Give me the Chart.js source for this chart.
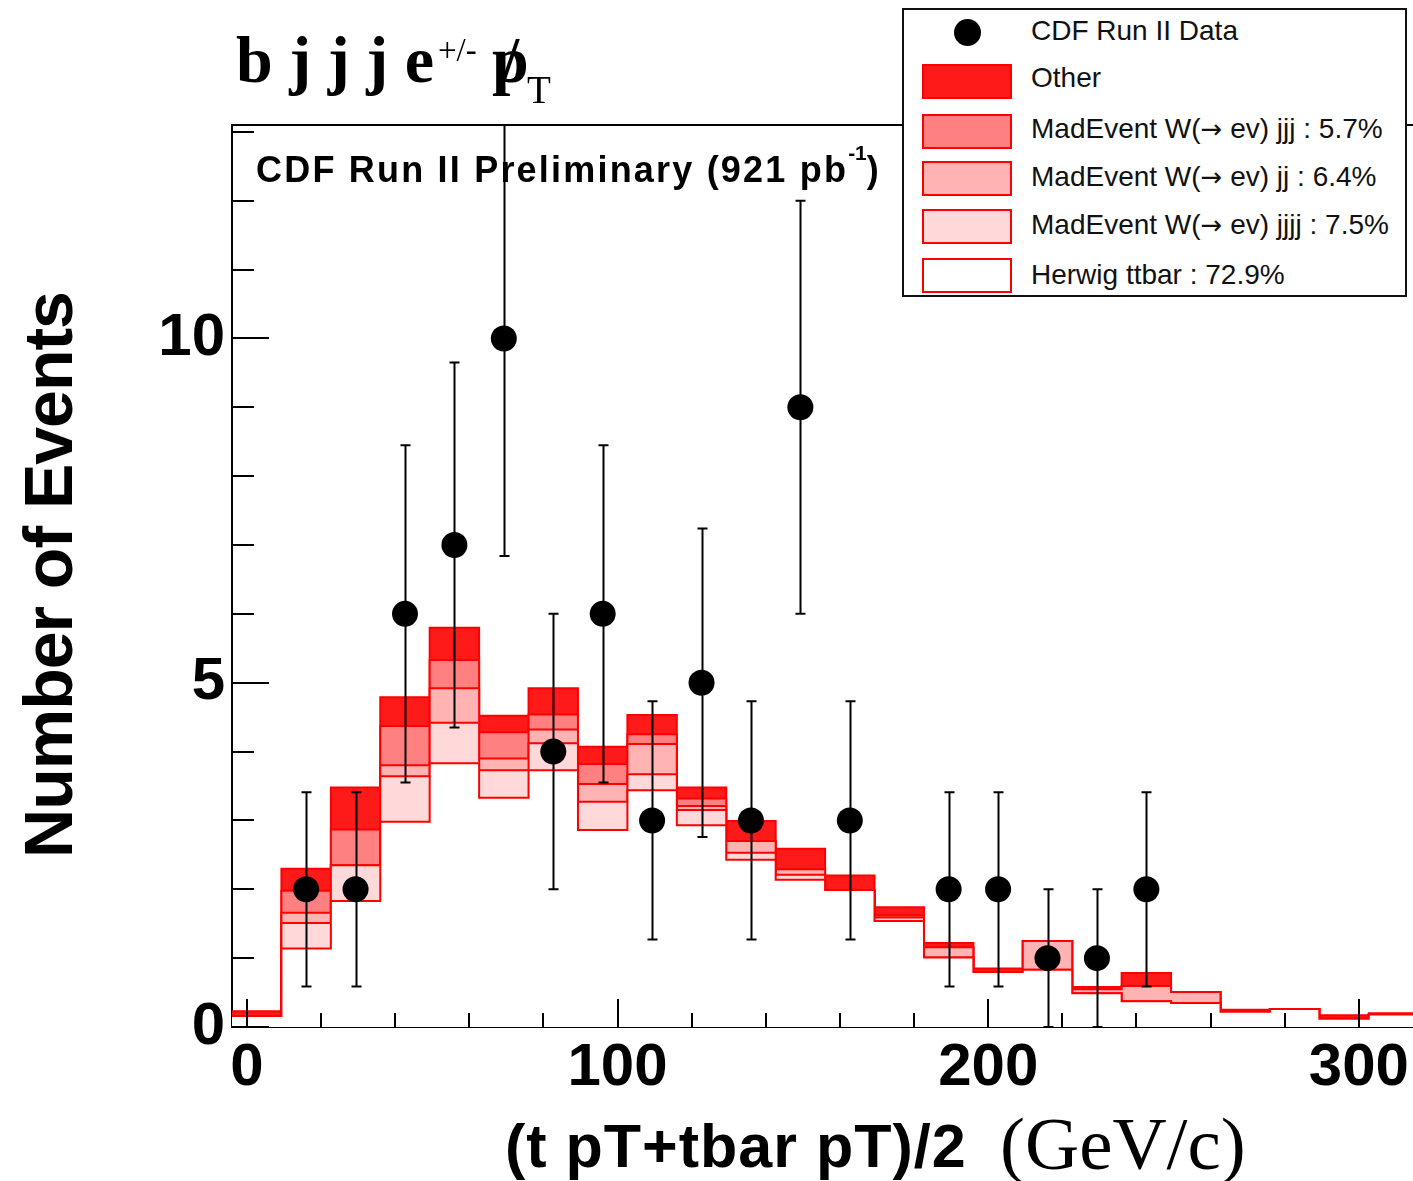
<!DOCTYPE html>
<html><head><meta charset="utf-8">
<script src="https://cdn.jsdelivr.net/npm/chart.js@4.4.1/dist/chart.umd.min.js"></script>
<style>
html,body{margin:0;padding:0;background:#fff;}
#wrap{position:relative;width:1413px;height:1181px;overflow:hidden;background:#fff;}
#c{position:absolute;left:0;top:0;}
.t{position:absolute;white-space:pre;line-height:1;color:#000;}
.sans{font-family:"Liberation Sans",Arial,Helvetica,sans-serif;}
.serif{font-family:"Liberation Serif","Times New Roman",Times,serif;}
#legend{position:absolute;left:902px;top:8px;width:505px;height:289px;box-sizing:border-box;border:2px solid #111;background:#fff;}
.sw{position:absolute;left:18px;width:90px;height:35px;box-sizing:border-box;border:2px solid #ff0000;}
.lt{position:absolute;left:127px;font-size:28px;line-height:1;white-space:pre;color:#111;font-family:"Liberation Sans",Arial,Helvetica,sans-serif;}
.ar{font-family:"DejaVu Sans",sans-serif;font-size:26px;}
</style></head><body>
<div id="wrap">
<canvas id="c" width="1413" height="1181"></canvas>

<!-- title -->
<div class="t serif" style="left:236px;top:26.7px;font-size:66px;font-weight:bold;">b j j j e</div>
<div class="t serif" style="left:438px;top:34px;font-size:33px;">+/-</div>
<div class="t serif" style="left:492px;top:26.7px;font-size:66px;font-weight:bold;">p</div>
<div class="t serif" style="left:497px;top:24.6px;font-size:82px;">/</div>
<div class="t serif" style="left:527px;top:70.3px;font-size:39px;">T</div>

<div class="t sans" style="left:256px;top:151.5px;font-size:36px;font-weight:bold;letter-spacing:2.2px;">CDF Run II Preliminary (921 pb<span style="position:relative;top:-22px;font-size:21px;letter-spacing:0;">-1</span>)</div>

<div class="t sans" style="left:-302px;top:541px;width:700px;height:68px;text-align:center;font-size:68px;font-weight:bold;letter-spacing:-1px;transform:rotate(-90deg);transform-origin:50% 50%;">Number of Events</div>

<div class="t sans" style="left:505px;top:1116.4px;font-size:61px;font-weight:bold;letter-spacing:1px;">(t pT+tbar pT)/2</div>
<div class="t serif" style="left:1000px;top:1106.2px;font-size:75px;">(GeV/c)</div>

<div id="legend"></div>
</div>

<script>
// ---- data ----
const binEdges = [-4, 9.33, 22.67, 36, 49.33, 62.67, 76, 89.33, 102.67, 116, 129.33, 142.67,
                  156, 169.33, 182.67, 196, 209.33, 222.67, 236, 249.33, 262.67, 276, 289.33, 302.67, 316];
const herwigTtbar = [0.16, 1.14, 1.83, 2.98, 3.83, 3.33, 3.73, 2.86, 3.44, 2.93, 2.43, 2.14,
                     1.99, 1.54, 1.01, 0.80, 0.83, 0.49, 0.375, 0.35, 0.22, 0.26, 0.12, 0.18];
const wjjjj = [0, 0.37, 0.52, 0.66, 0.59, 0.40, 0.39, 0.41, 0.23, 0.22, 0.10, 0.07,
               0, 0.05, 0, 0, 0, 0, 0, 0, 0, 0, 0, 0];
const wjj = [0, 0.15, 0, 0.16, 0.50, 0.17, 0.20, 0.26, 0.44, 0.06, 0.17, 0.08,
             0, 0.03, 0.15, 0, 0.42, 0.06, 0.22, 0.16, 0, 0, 0, 0];
const wjjj = [0, 0.32, 0.52, 0.57, 0.41, 0.38, 0.22, 0.29, 0.14, 0.11, 0, 0,
              0, 0, 0, 0, 0, 0, 0, 0, 0, 0, 0, 0];
const other = [0.07, 0.32, 0.61, 0.42, 0.47, 0.24, 0.38, 0.25, 0.28, 0.16, 0.29, 0.30,
               0.21, 0.12, 0.06, 0.05, 0, 0.03, 0.19, 0, 0.03, 0, 0.05, 0.02];

const dataCenters = [16, 29.33, 42.67, 56, 69.33, 82.67, 96, 109.33, 122.67, 136, 149.33, 162.67,
                     189.33, 202.67, 216, 229.33, 242.67];
const dataValues = [2, 2, 6, 7, 10, 4, 6, 3, 5, 3, 9, 3, 2, 2, 1, 1, 2];
const dataErrLow = [1.41, 1.41, 2.45, 2.65, 3.16, 2.0, 2.45, 1.73, 2.24, 1.73, 3.0, 1.73, 1.41, 1.41, 1.0, 1.0, 1.41];
const dataErrHigh = [1.41, 1.41, 2.45, 2.65, 3.16, 2.0, 2.45, 1.73, 2.24, 1.73, 3.0, 1.73, 1.41, 1.41, 1.0, 1.0, 1.41];

const xTickLabels = [0, 100, 200, 300];
const yTickLabels = [0, 5, 10];

const legendItems = [
  {label: 'Other', color: '#ff1a1a'},
  {label: 'MadEvent W(<span class="ar">\u2192</span> ev) jjj : 5.7%', color: '#ff8080'},
  {label: 'MadEvent W(<span class="ar">\u2192</span> ev) jj : 6.4%', color: '#ffb3b3'},
  {label: 'MadEvent W(<span class="ar">\u2192</span> ev) jjjj : 7.5%', color: '#ffd9d9'},
  {label: 'Herwig ttbar : 72.9%', color: '#ffffff'}
];

// ---- helpers ----
function histPoints(vals) {
  return binEdges.map((x, i) => ({x: x, y: vals[Math.min(i, vals.length - 1)]}));
}
function layer(label, vals, color, fill) {
  return {
    type: 'line', label: label, data: histPoints(vals), stepped: true, order: 1,
    borderColor: '#ff0000', borderWidth: 2, backgroundColor: color, fill: fill,
    pointRadius: 0, pointHoverRadius: 0, tension: 0
  };
}

const errorBars = {
  id: 'errorBars',
  afterDatasetsDraw(chart) {
    const {ctx, chartArea: a, scales: {x, y}} = chart;
    ctx.save();
    ctx.beginPath();
    ctx.rect(a.left, a.top, a.right - a.left, a.bottom - a.top);
    ctx.clip();
    ctx.strokeStyle = '#000';
    ctx.lineWidth = 2;
    dataCenters.forEach((c, i) => {
      const px = Math.round(x.getPixelForValue(c)) + 0.5;
      const y1 = y.getPixelForValue(dataValues[i] + dataErrHigh[i]);
      const y0 = y.getPixelForValue(Math.max(0, dataValues[i] - dataErrLow[i]));
      ctx.beginPath();
      ctx.moveTo(px, y0); ctx.lineTo(px, y1);
      ctx.moveTo(px - 5, y1); ctx.lineTo(px + 5, y1);
      ctx.moveTo(px - 5, y0); ctx.lineTo(px + 5, y0);
      ctx.stroke();
    });
    ctx.restore();
  }
};

const frameTicks = {
  id: 'frameTicks',
  afterDraw(chart) {
    const {ctx, chartArea: a, scales: {x, y}} = chart;
    ctx.save();
    ctx.strokeStyle = '#000';
    ctx.lineWidth = 2;
    ctx.beginPath();
    ctx.moveTo(a.left, a.top); ctx.lineTo(a.right, a.top);
    for (let v = 0; v <= 13; v++) {
      const py = Math.round(y.getPixelForValue(v));
      const len = (v % 5 === 0) ? 37 : 22;
      ctx.moveTo(a.left, py); ctx.lineTo(a.left + len, py);
    }
    for (let v = 0; v <= 300; v += 20) {
      const px = Math.round(x.getPixelForValue(v));
      const len = (v % 100 === 0) ? 28 : 14;
      ctx.moveTo(px, a.bottom); ctx.lineTo(px, a.bottom - len);
    }
    ctx.stroke();
    ctx.restore();
  }
};

const tickFont = {family: '"Liberation Sans", Arial, Helvetica, sans-serif', size: 60, weight: 'bold'};

new Chart(document.getElementById('c'), {
  type: 'line',
  data: {
    datasets: [
      layer('Herwig ttbar : 72.9%', herwigTtbar, '#ffffff', 'origin'),
      layer('MadEvent W(\u2192 ev) jjjj : 7.5%', wjjjj, '#ffd9d9', '-1'),
      layer('MadEvent W(\u2192 ev) jj : 6.4%', wjj, '#ffb3b3', '-1'),
      layer('MadEvent W(\u2192 ev) jjj : 5.7%', wjjj, '#ff8080', '-1'),
      layer('Other', other, '#ff1a1a', '-1'),
      {
        type: 'scatter', label: 'CDF Run II Data', stack: 'data', order: 0,
        data: dataCenters.map((c, i) => ({x: c, y: dataValues[i]})),
        pointRadius: 13, pointHoverRadius: 13, backgroundColor: '#000', borderColor: '#000', borderWidth: 0
      }
    ]
  },
  options: {
    responsive: false,
    animation: false,
    layout: {autoPadding: false, padding: {top: 125, left: 0, right: 0, bottom: 0}},
    plugins: {legend: {display: false}, tooltip: {enabled: false}},
    scales: {
      x: {
        type: 'linear', min: -4, max: 314.6,
        grid: {display: false, drawTicks: false},
        border: {display: true, color: '#000', width: 2},
        ticks: {font: tickFont, color: '#000', padding: 5, maxRotation: 0, autoSkip: false},
        afterBuildTicks: s => { s.ticks = xTickLabels.map(v => ({value: v})); },
        afterFit: s => { s.height = 154; s.paddingLeft = 0; s.paddingRight = 0; }
      },
      y: {
        type: 'linear', stacked: true, min: 0, max: 13.1,
        grid: {display: false, drawTicks: false},
        border: {display: true, color: '#000', width: 2},
        ticks: {font: tickFont, color: '#000', padding: 7, autoSkip: false},
        afterBuildTicks: s => { s.ticks = yTickLabels.map(v => ({value: v})); },
        afterFit: s => { s.width = 232; s.paddingTop = 0; s.paddingBottom = 0; }
      }
    }
  },
  plugins: [errorBars, frameTicks]
});

// ---- HTML legend (coordinates inside the legend box) ----
const lg = document.getElementById('legend');
const swTops = [54, 104, 151, 199, 248];
const textTops = [54.3, 105, 153.3, 201.3, 251];
let html = '<div style="position:absolute;left:50px;top:9px;width:27px;height:27px;border-radius:50%;background:#000;"></div>' +
           '<div class="lt" style="top:7.3px;">CDF Run II Data</div>';
legendItems.forEach((it, i) => {
  html += '<div class="sw" style="top:' + swTops[i] + 'px;background:' + it.color + ';"></div>';
  html += '<div class="lt" style="top:' + textTops[i] + 'px;">' + it.label + '</div>';
});
lg.innerHTML = html;
</script>
</body></html>
